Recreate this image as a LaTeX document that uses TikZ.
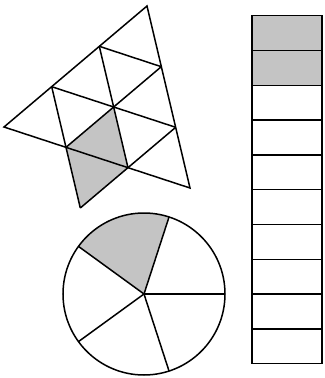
\documentclass[tikz,border=0pt]{standalone}
\usepackage{xcolor}
\usepackage{tikz}
\definecolor{partgray}{RGB}{196,196,196}

\begin{document}
\begin{tikzpicture}[x=1bp,y=-1bp,line width=1.5bp]
\useasboundingbox (0,0) rectangle (325,378);
% triangle split into nine
\coordinate (T) at (147,6);
\coordinate (L) at (4,127);
\coordinate (R) at (190,188);
\coordinate (a1) at (99.3,46.3);
\coordinate (a2) at (51.7,86.7);
\coordinate (b1) at (161.3,66.7);
\coordinate (b2) at (175.7,127.3);
\coordinate (c1) at (66,147.3);
\coordinate (c2) at (128,167.7);
\coordinate (M) at (113.7,107);
\coordinate (D) at (80.3,208);
\fill[partgray] (M)--(c1)--(D)--(c2)--cycle;
\draw (T)--(L)--(R)--cycle;
\draw (a1)--(b1);
\draw (a2)--(b2);
\draw (a1)--(c2);
\draw (a2)--(D);
\draw (b1)--(c1);
\draw (b2)--(D);
% pie in five
\coordinate (O) at (144,294);
\fill[partgray] (O)--++(-72:81) arc[start angle=-72, end angle=-144, radius=81]--cycle;
\draw (O) circle[radius=81];
\foreach \a in {0,72,...,288}
  \draw (O)--++(-\a:81);
% bar of ten
\foreach \i in {0,1}
  \fill[partgray] (252,15.7+34.8*\i) rectangle ++(70,34.8);
\foreach \i in {0,...,9}
  \draw (252,15.7+34.8*\i) rectangle ++(70,34.8);
\end{tikzpicture}
\end{document}
